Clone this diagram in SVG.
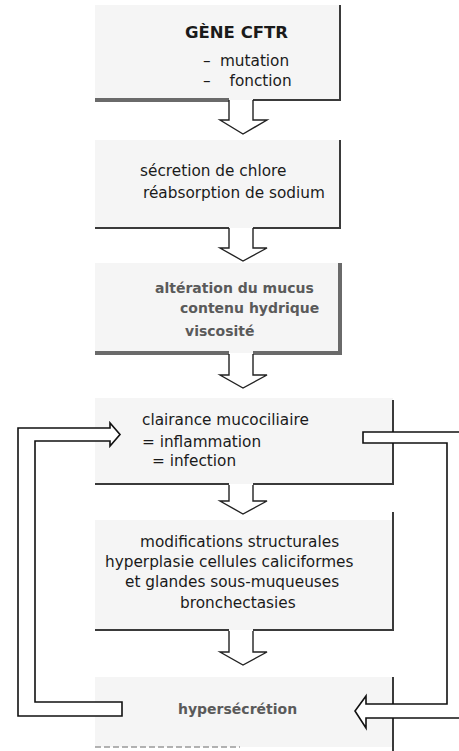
<svg xmlns="http://www.w3.org/2000/svg" width="459" height="751" viewBox="0 0 459 751">
<style>
.bg{fill:#f5f5f5}
.edge{stroke:#3a3a3a;stroke-width:2;fill:none}
.edgeg{stroke:#6a6a6a;stroke-width:4;fill:none}
.t{font-family:"DejaVu Sans",sans-serif;font-size:15.3px;fill:#1a1a1a}
.tb{font-family:"DejaVu Sans",sans-serif;font-weight:bold;font-size:14px;fill:#5a5a5a}
.th{font-family:"DejaVu Sans",sans-serif;font-weight:bold;font-size:16.5px;fill:#1a1a1a}
.arr{fill:#fff;stroke:#222;stroke-width:1.4}
.loop{fill:#fff;stroke:#111;stroke-width:1.6}
</style>
<rect width="459" height="751" fill="#fff"/>
<g id="box1">
<rect class="bg" x="95" y="5" width="245" height="95"/>
<line class="edge" x1="340" y1="5" x2="340" y2="101"/>
<line class="edgeg" x1="95" y1="100" x2="229" y2="100"/>
<line class="edge" x1="253" y1="100" x2="341" y2="100"/>
<text class="th" x="185" y="38">GÈNE CFTR</text>
<text class="t" x="203" y="66">–<tspan dx="4.4"> mutation</tspan></text>
<text class="t" x="203" y="86">–<tspan dx="14"> fonction</tspan></text>
</g>
<g id="box2">
<rect class="bg" x="95" y="140" width="245" height="88"/>
<line class="edge" x1="340" y1="140" x2="340" y2="229"/>
<line class="edge" x1="95" y1="228" x2="229" y2="228"/>
<line class="edge" x1="253" y1="228" x2="341" y2="228"/>
<text class="t" x="140" y="176">sécretion de chlore</text>
<text class="t" x="143" y="198">réabsorption de sodium</text>
</g>
<g id="box3">
<rect class="bg" x="95" y="263" width="245" height="90"/>
<line class="edgeg" x1="340" y1="263" x2="340" y2="355"/>
<line class="edgeg" x1="95" y1="353" x2="229" y2="353"/>
<line class="edgeg" x1="253" y1="353" x2="342" y2="353"/>
<text class="tb" x="155" y="293">altération du mucus</text>
<text class="tb" x="180" y="313">contenu hydrique</text>
<text class="tb" x="185" y="336">viscosité</text>
</g>
<g id="box4">
<rect class="bg" x="95" y="398" width="298" height="86"/>
<line class="edge" x1="393" y1="400" x2="393" y2="485"/>
<line class="edge" x1="95" y1="484" x2="229" y2="484"/>
<line class="edge" x1="253" y1="484" x2="394" y2="484"/>
<text class="t" x="142" y="425">clairance mucociliaire</text>
<text class="t" x="142" y="447">= inflammation</text>
<text class="t" x="152" y="466">= infection</text>
</g>
<g id="box5">
<rect class="bg" x="95" y="520" width="298" height="110"/>
<line class="edge" x1="393" y1="512" x2="393" y2="631"/>
<line class="edge" x1="95" y1="630" x2="229" y2="630"/>
<line class="edge" x1="253" y1="630" x2="394" y2="630"/>
<text class="t" x="140" y="547">modifications structurales</text>
<text class="t" x="105" y="567">hyperplasie cellules caliciformes</text>
<text class="t" x="125" y="587">et glandes sous-muqueuses</text>
<text class="t" x="180" y="608">bronchectasies</text>
</g>
<g id="box6">
<rect class="bg" x="95" y="677" width="298" height="70"/>
<line class="edge" x1="393" y1="677" x2="393" y2="751"/>
<line x1="95" y1="747" x2="240" y2="747" stroke="#999" stroke-width="1.5" stroke-dasharray="6 3"/>
<text class="tb" x="178" y="714">hypersécrétion</text>
</g>
<g id="connectors">
<path class="arr" d="M229,100 V120 H220 L243,134 L267,120 H253 V100"/>
<path class="arr" d="M229,228 V248 H220 L243,261 L267,248 H253 V228"/>
<path class="arr" d="M229,354 V375 H220 L243,388 L267,375 H253 V354"/>
<path class="arr" d="M229,485 V501 H220 L243,514 L267,501 H253 V485"/>
<path class="arr" d="M229,631 V652 H220 L243,665 L267,652 H253 V631"/>
<path class="loop" d="M122,716 H18 V428 H110 V423 L120,434.5 L110,446 V441 H35 V702 H122 Z"/>
<path class="loop" d="M363,432 H465 V718 H366 V728 L355,711 L366,696 V704 H447 V443 H363 Z"/>
</g>
</svg>
